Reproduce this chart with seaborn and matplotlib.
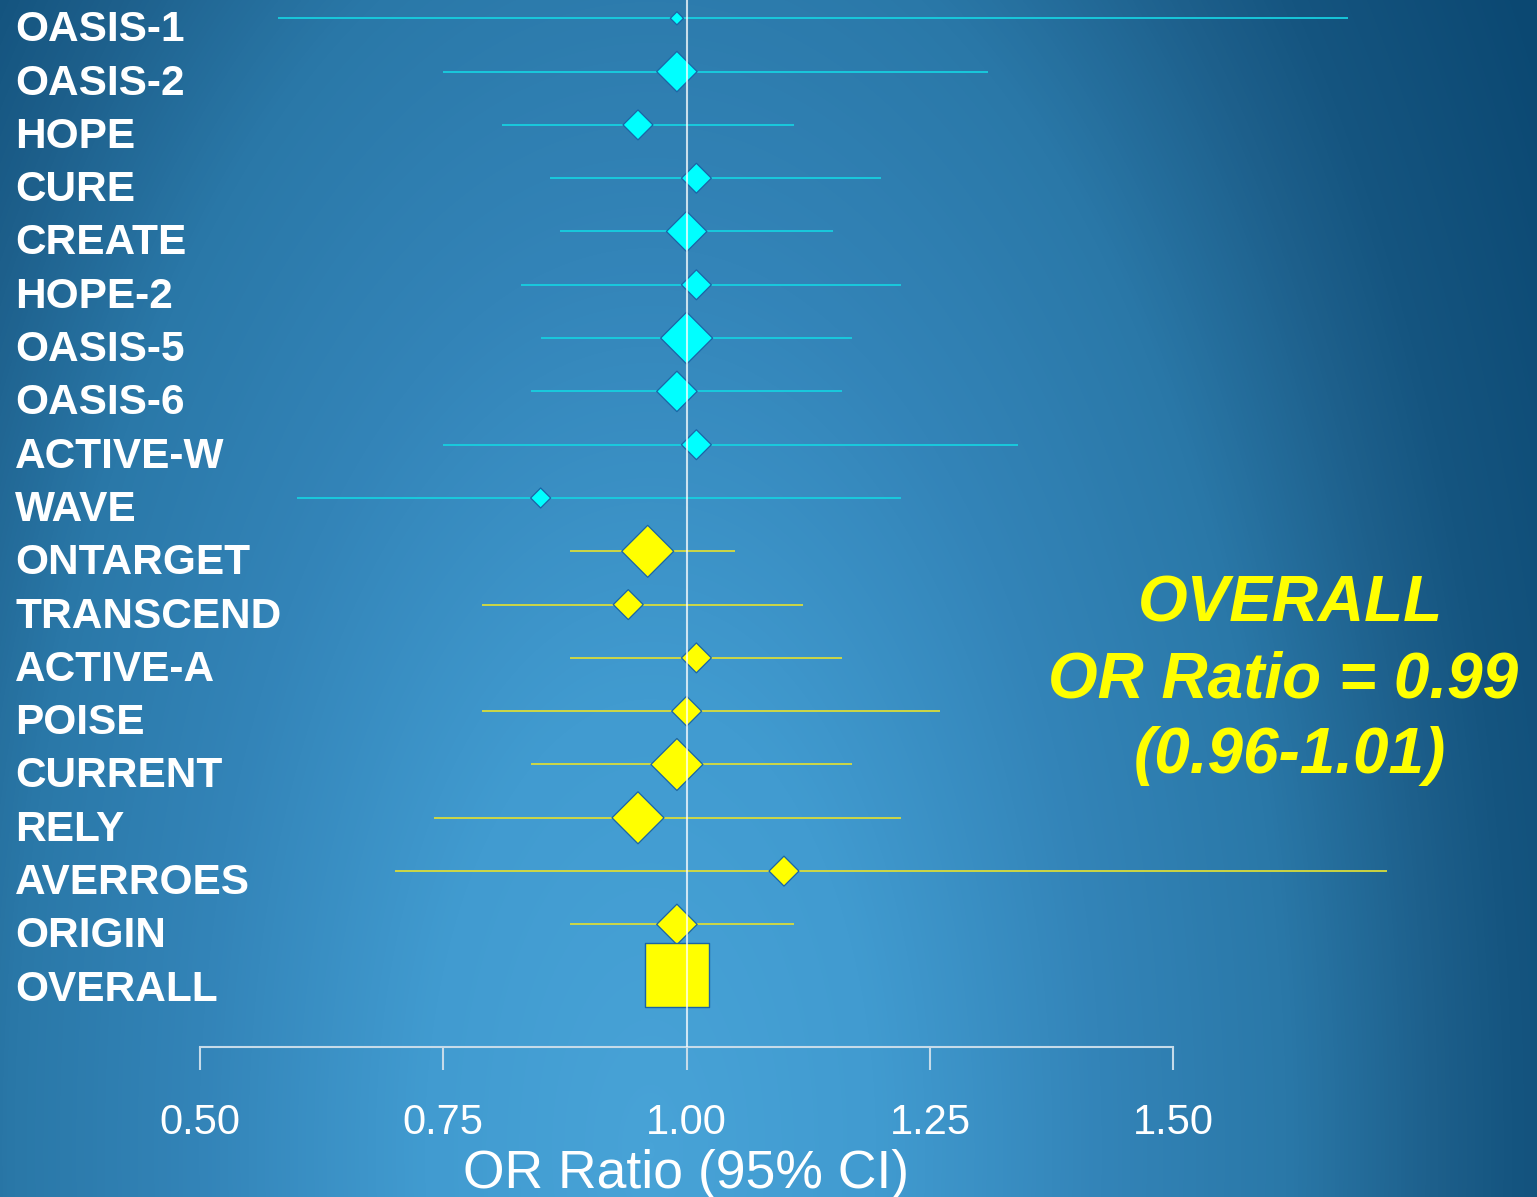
"""
Forest plot - OR ratio (95% CI) per trial, with overall estimate
"""

import numpy as np
import pandas as pd
import matplotlib
matplotlib.use('Agg')
import matplotlib.pyplot as plt
from matplotlib import transforms
from matplotlib.colors import LinearSegmentedColormap
import seaborn as sns

# Data
studies = ['OASIS-1', 'OASIS-2', 'HOPE', 'CURE', 'CREATE', 'HOPE-2', 'OASIS-5',
           'OASIS-6', 'ACTIVE-W', 'WAVE', 'ONTARGET', 'TRANSCEND', 'ACTIVE-A',
           'POISE', 'CURRENT', 'RELY', 'AVERROES', 'ORIGIN']
odds_ratio = [0.99, 0.99, 0.95, 1.01, 1.00, 1.01, 1.00, 0.99, 1.01, 0.85,
              0.96, 0.94, 1.01, 1.00, 0.99, 0.95, 1.10, 0.99]
ci_low = [0.58, 0.75, 0.81, 0.86, 0.87, 0.83, 0.85, 0.84, 0.75, 0.60,
          0.88, 0.79, 0.88, 0.79, 0.84, 0.74, 0.70, 0.88]
ci_high = [1.68, 1.31, 1.11, 1.20, 1.15, 1.22, 1.17, 1.16, 1.34, 1.22,
           1.05, 1.12, 1.16, 1.26, 1.17, 1.22, 1.72, 1.11]
weight = [1.0, 8.7, 4.8, 4.8, 8.7, 4.8, 14.3, 8.7, 4.8, 2.2,
          14.3, 4.8, 4.8, 4.8, 14.3, 14.3, 4.8, 8.7]
group = ['A'] * 10 + ['B'] * 8

overall_label = 'OVERALL'
overall_or = 0.99
overall_ci = (0.96, 1.01)
x_ticks = [0.50, 0.75, 1.00, 1.25, 1.50]

df = pd.DataFrame({'study': studies, 'or': odds_ratio, 'lo': ci_low,
                   'hi': ci_high, 'weight': weight, 'group': group})
df['row'] = np.arange(len(df))
overall_row = len(df)

MARK = {'A': '#00ffff', 'B': '#ffff00'}
LINE = {'A': '#17cfe0', 'B': '#d9dc3a'}
EDGE = '#1a64a6'
AXC = '#c6dbe9'

sns.set_style('ticks')
plt.rcParams['font.family'] = ['Liberation Sans', 'DejaVu Sans']

W, H = 1537, 1197
fig = plt.figure(figsize=(W / 100, H / 100), dpi=100)

# background gradient (light bottom centre -> dark corners)
bg = fig.add_axes([0, 0, 1, 1], zorder=-1)
yy, xx = np.mgrid[0:H, 0:W]
d = np.sqrt(((xx - 650) / 750) ** 2 + ((yy - 1150) / 1500) ** 2)
dmax = 1.4
stops = [(0.0, '#48a3d7'), (0.3, '#419bd0'), (0.6, '#3384b8'),
         (0.85, '#2a78a8'), (1.05, '#1d5f8b'), (1.15, '#155580'),
         (1.4, '#0b4872')]
cmap = LinearSegmentedColormap.from_list('bg', [(p / dmax, c) for p, c in stops])
bg.imshow(cmap(np.clip(d / dmax, 0, 1)), aspect='auto', extent=[0, 1, 0, 1])
bg.axis('off')

# main axes: 0.5 at px 200, 973.3 px per unit; rows 53.3 px apart from y=18.3
px_unit, row_px, row0 = 973.3, 53.3, 18.3
ax = fig.add_axes([200 / W, 1 - 1047 / H, (W - 200) / W, 1047 / H])
ax.set_facecolor('none')
ax.set_xlim(0.5, 0.5 + (W - 200) / px_unit)
ax.set_ylim((1047 - row0) / row_px, -row0 / row_px)

for g, sub in df.groupby('group'):
    ax.hlines(sub['row'], sub['lo'], sub['hi'], color=LINE[g], lw=1.3, zorder=2)

sns.scatterplot(data=df, x='or', y='row', hue='group', palette=MARK,
                size='weight', sizes=(45, 700), size_norm=(1.0, 14.3),
                marker='D', edgecolor=EDGE, linewidth=0.9, legend=False,
                ax=ax, zorder=4)
sns.scatterplot(x=[overall_or], y=[overall_row - 0.05], marker='s', s=2124,
                color='#ffff00', edgecolor=EDGE, linewidth=1.0, legend=False,
                ax=ax, zorder=4)

ax.axvline(1.0, color='white', alpha=0.75, lw=1.5, zorder=5)

ax.set_xlabel('')
ax.set_ylabel('')
ax.set_yticks([])
ax.set_xticks(x_ticks)
ax.set_xticklabels([f'{t:.2f}' for t in x_ticks])
ax.tick_params(axis='x', direction='out', length=16.5, width=1.5, color=AXC,
               pad=24, labelsize=30, labelcolor='white')
for s in ['left', 'top', 'right']:
    ax.spines[s].set_visible(False)
ax.spines['bottom'].set_bounds(0.5, 1.5)
ax.spines['bottom'].set_color(AXC)
ax.spines['bottom'].set_linewidth(1.5)

# row labels
trans = transforms.blended_transform_factory(fig.transFigure, ax.transData)
for i, name in enumerate(studies + [overall_label]):
    ax.text(15 / W, i + 0.43, name, transform=trans, fontsize=30.5,
            fontweight='bold', color='white', ha='left', va='baseline')

fig.text(686 / W, 1 - 1188 / H, 'OR Ratio (95% CI)', fontsize=38.5,
         color='white', ha='center', va='baseline')

# overall annotation
lines = [overall_label, f'OR Ratio = {overall_or:.2f}',
         f'({overall_ci[0]:.2f}-{overall_ci[1]:.2f})']
for txt, xc, yb in zip(lines, [1290, 1283, 1290], [622, 697, 773]):
    fig.text(xc / W, 1 - yb / H, txt, fontsize=46, fontweight='bold',
             fontstyle='italic', color='#ffff00', ha='center', va='baseline')

plt.savefig('out.png', dpi=100)
